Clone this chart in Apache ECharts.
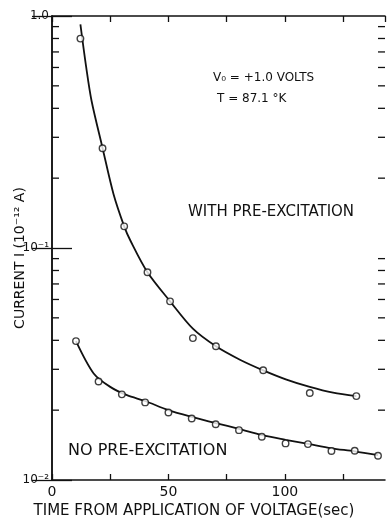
<!DOCTYPE html>
<html>
<head>
<meta charset="utf-8">
<script src="https://cdn.jsdelivr.net/npm/echarts@6/dist/echarts.min.js"></script>
<style>
html,body{margin:0;padding:0;background:#fff;}
#chart{width:388px;height:525px;}
</style>
</head>
<body>
<div id="chart"></div>
<script>
// ---- data ----
const withPreTimes = [12.2, 21.7, 31, 41, 50.7, 60.5, 70.4, 90.7, 110.7, 130.7];
const withPreCurrent = [0.799, 0.269, 0.124, 0.0786, 0.0589, 0.0409, 0.0377, 0.0297, 0.0237, 0.0230];
const noPreTimes = [10.3, 20, 30, 40, 50, 60, 70.3, 80.3, 90.1, 100.3, 109.9, 120, 130, 140];
const noPreCurrent = [0.0397, 0.0266, 0.0234, 0.0216, 0.01955, 0.0184, 0.0174, 0.0164, 0.01535, 0.01438, 0.01428, 0.01333, 0.01336, 0.01273];
// fitted (hand-drawn) curves
const withFitTimes = [12.2, 14.7, 17, 21.7, 26.4, 31, 33.6, 41, 50.7, 60.5, 70.4, 80.7, 90.7, 100.7, 110.7, 120.7, 130.7];
const withFitCurrent = [0.92, 0.60, 0.43, 0.27, 0.171, 0.124, 0.108, 0.0786, 0.0589, 0.0449, 0.0377, 0.0330, 0.0297, 0.0271, 0.0252, 0.0238, 0.0230];
const noFitTimes = [10.3, 17.9, 25, 32.2, 40, 50, 60, 70.3, 80.3, 90.3, 100.3, 110, 120, 130, 140];
const noFitCurrent = [0.0397, 0.0288, 0.0252, 0.0232, 0.0219, 0.0200, 0.0187, 0.0176, 0.0166, 0.0156, 0.0149, 0.0143, 0.0137, 0.0133, 0.0128];
// axis ticks
const xTickLabels = [0, 50, 100];
const yTickLabels = {1: '1.0', 0.1: '10\u207B\u00B9', 0.01: '10\u207B\u00B2'};
const yMinorTicks = [0.02, 0.03, 0.04, 0.05, 0.06, 0.07, 0.08, 0.09, 0.2, 0.3, 0.4, 0.5, 0.6, 0.7, 0.8, 0.9];

const zip = (a, b) => a.map((v, i) => [v, b[i]]);
const FONT = 'DejaVu Sans';

const chart = echarts.init(document.getElementById('chart'), null, {renderer: 'canvas'});
const axisLineStyle = {color: '#111', width: 1.5};
const option = {
  animation: false,
  backgroundColor: '#fff',
  grid: {left: 52, right: 3, top: 16, bottom: 45, containLabel: false, outerBoundsMode: 'none'},
  xAxis: [{
    type: 'value', min: 0, max: 143, interval: 25, position: 'bottom',
    axisLine: {show: true, lineStyle: axisLineStyle},
    axisTick: {show: true, inside: true, length: 6, lineStyle: {color: '#111', width: 1.3}},
    axisLabel: {
      show: true, margin: 5, color: '#111', fontFamily: FONT, fontSize: 14,
      showMaxLabel: false,
      formatter: v => xTickLabels.indexOf(v) >= 0 ? String(v) : ''
    },
    splitLine: {show: false}
  }, {
    type: 'value', min: 0, max: 143, interval: 25, position: 'top',
    axisLine: {show: true, lineStyle: axisLineStyle},
    axisTick: {show: true, inside: true, length: 6, lineStyle: {color: '#111', width: 1.3}},
    axisLabel: {show: false},
    splitLine: {show: false}
  }],
  yAxis: [{
    type: 'log', logBase: 10, min: 0.01, max: 1, position: 'left',
    axisLine: {show: true, lineStyle: axisLineStyle},
    axisTick: {show: true, inside: true, length: 20, lineStyle: {color: '#111', width: 1.3}},
    axisLabel: {
      show: true, margin: 3, color: '#111', fontFamily: FONT, fontSize: 12,
      formatter: v => yTickLabels[v] !== undefined ? yTickLabels[v] : ''
    },
    splitLine: {show: false}
  }, {
    type: 'log', logBase: 10, min: 0.01, max: 1, position: 'right',
    axisLine: {show: true, lineStyle: axisLineStyle},
    axisTick: {show: true, inside: true, length: 20, lineStyle: {color: '#111', width: 1.3}},
    axisLabel: {show: false},
    splitLine: {show: false}
  }],
  graphic: [
    {type: 'text', x: 20, y: 258, rotation: Math.PI / 2,
     style: {text: 'CURRENT I (10\u207B\u00B9\u00B2 A)', fill: '#111', font: '14px "DejaVu Sans"', textAlign: 'center', textVerticalAlign: 'middle'}},
    {type: 'text', left: 213, top: 72, style: {text: 'V\u2080 = +1.0 VOLTS', fill: '#111', font: '12px "DejaVu Sans"'}},
    {type: 'text', left: 217, top: 93, style: {text: 'T = 87.1 \u00B0K', fill: '#111', font: '12px "DejaVu Sans"'}},
    {type: 'text', left: 188, top: 205, style: {text: 'WITH PRE-EXCITATION', fill: '#111', font: '15px "DejaVu Sans"'}},
    {type: 'text', left: 68, top: 443, style: {text: 'NO PRE-EXCITATION', fill: '#111', font: '16px "DejaVu Sans"'}},
    {type: 'text', left: 'center', top: 504, style: {text: 'TIME FROM APPLICATION OF VOLTAGE(sec)', fill: '#111', font: '15px "DejaVu Sans"'}}
  ],
  series: [
    {
      type: 'custom', name: 'minorTicks', silent: true, clip: false,
      data: yMinorTicks.map(v => [0, v]),
      renderItem: (params, api) => {
        const cs = params.coordSys;
        const y = api.coord([0, api.value(1)])[1];
        return {type: 'group', children: [
          {type: 'line', shape: {x1: cs.x, y1: y, x2: cs.x + 7, y2: y}, style: {stroke: '#111', lineWidth: 1.3}},
          {type: 'line', shape: {x1: cs.x + cs.width - 7, y1: y, x2: cs.x + cs.width, y2: y}, style: {stroke: '#111', lineWidth: 1.3}}
        ]};
      }
    },
    {
      type: 'line', name: 'with fit', data: zip(withFitTimes, withFitCurrent),
      smooth: 0.3, showSymbol: false, silent: true,
      lineStyle: {color: '#111', width: 1.8}
    },
    {
      type: 'line', name: 'no fit', data: zip(noFitTimes, noFitCurrent),
      smooth: 0.3, showSymbol: false, silent: true,
      lineStyle: {color: '#111', width: 1.8}
    },
    {
      type: 'scatter', name: 'with pre-excitation', data: zip(withPreTimes, withPreCurrent),
      symbol: 'circle', symbolSize: 6.5, z: 5,
      itemStyle: {color: '#fff', borderColor: '#111', borderWidth: 1.4}
    },
    {
      type: 'scatter', name: 'no pre-excitation', data: zip(noPreTimes, noPreCurrent),
      symbol: 'circle', symbolSize: 6.5, z: 5,
      itemStyle: {color: '#fff', borderColor: '#111', borderWidth: 1.4}
    }
  ]
};
chart.setOption(option);
</script>
</body>
</html>
